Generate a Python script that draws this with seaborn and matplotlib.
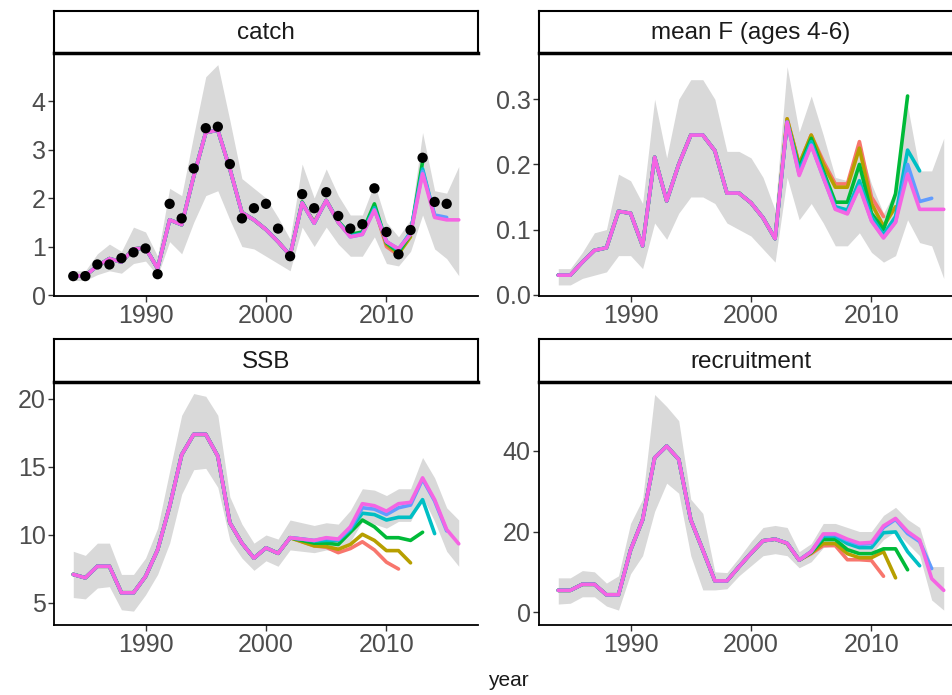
import matplotlib
matplotlib.use('Agg')
import matplotlib.pyplot as plt
import seaborn as sns
import numpy as np
import pandas as pd

sns.set_theme(style="white")
plt.rcParams['font.family'] = ['Liberation Sans', 'DejaVu Sans']

# ggplot default hue palette for the six retrospective peels
PEELS = [2011, 2012, 2013, 2014, 2015, 2016]
PEEL_COLORS = ['#F8766D', '#B79F00', '#00BA38', '#00BFC4', '#619CFF', '#F564E3']
BAND_COLOR = '#D9D9D9'
TICK_COLOR = '#4D4D4D'

years = list(range(1984, 2017))
TAIL_START = 2003

# observed catch (points)
obs_years = list(range(1984, 2016))
obs_catch = [0.39, 0.39, 0.63, 0.63, 0.76, 0.88, 0.96, 0.43, 1.88, 1.58, 2.61, 3.44,
             3.47, 2.70, 1.58, 1.79, 1.88, 1.37, 0.80, 2.08, 1.79, 2.12, 1.63, 1.37,
             1.46, 2.20, 1.30, 0.84, 1.34, 2.83, 1.92, 1.88]

# ---- catch ----
catch_est = [0.39, 0.40, 0.60, 0.75, 0.68, 0.95, 0.97, 0.55, 1.55, 1.45, 2.45, 3.35,
             3.40, 2.60, 1.70, 1.55, 1.35, 1.10, 0.82, 1.90, 1.48, 1.95, 1.50, 1.20,
             1.25, 1.75, 1.10, 0.95, 1.25, 2.50, 1.60, 1.55, 1.55]
catch_lo = [0.30, 0.30, 0.42, 0.50, 0.45, 0.65, 0.70, 0.40, 1.10, 0.85, 1.50, 2.05,
            2.15, 1.55, 1.00, 0.95, 0.80, 0.65, 0.50, 1.40, 1.00, 1.40, 1.05, 0.80,
            0.80, 1.20, 0.65, 0.60, 0.90, 1.65, 0.95, 0.75, 0.40]
catch_hi = [0.50, 0.50, 0.85, 1.05, 0.90, 1.40, 1.30, 0.80, 2.20, 2.05, 3.30, 4.50,
            4.75, 3.60, 2.40, 2.20, 2.00, 1.60, 1.15, 2.70, 2.00, 2.60, 2.05, 1.65,
            1.65, 2.30, 1.50, 1.20, 1.55, 3.35, 2.15, 2.10, 2.65]
catch_tails = {
    2011: [1.90, 1.50, 1.95, 1.50, 1.22, 1.28, 1.80, 1.00, 0.82],
    2012: [1.90, 1.50, 1.95, 1.50, 1.22, 1.28, 1.80, 1.05, 0.85, 1.20],
    2013: [1.92, 1.48, 1.95, 1.52, 1.25, 1.30, 1.88, 1.08, 0.88, 1.25, 2.75],
    2014: [1.90, 1.48, 1.95, 1.50, 1.22, 1.27, 1.80, 1.10, 0.92, 1.30, 2.60, 1.62],
    2015: [1.90, 1.48, 1.95, 1.50, 1.20, 1.25, 1.76, 1.10, 0.95, 1.27, 2.55, 1.65, 1.60],
}

# ---- mean F ----
f_est = [0.030, 0.030, 0.050, 0.068, 0.072, 0.128, 0.125, 0.075, 0.211, 0.144, 0.200,
         0.245, 0.245, 0.221, 0.156, 0.156, 0.141, 0.118, 0.086, 0.265, 0.183, 0.229,
         0.180, 0.131, 0.124, 0.165, 0.113, 0.087, 0.111, 0.185, 0.131, 0.131, 0.131]
f_lo = [0.015, 0.015, 0.025, 0.030, 0.035, 0.060, 0.060, 0.040, 0.110, 0.085, 0.125,
        0.150, 0.150, 0.140, 0.110, 0.100, 0.090, 0.070, 0.050, 0.180, 0.115, 0.140,
        0.110, 0.075, 0.075, 0.095, 0.065, 0.050, 0.060, 0.115, 0.080, 0.075, 0.025]
f_hi = [0.040, 0.040, 0.065, 0.095, 0.100, 0.185, 0.175, 0.140, 0.300, 0.210, 0.300,
        0.330, 0.330, 0.300, 0.220, 0.220, 0.210, 0.180, 0.130, 0.350, 0.250, 0.305,
        0.245, 0.180, 0.175, 0.230, 0.170, 0.125, 0.160, 0.290, 0.190, 0.190, 0.240]
f_tails = {
    2011: [0.270, 0.200, 0.245, 0.205, 0.170, 0.170, 0.235, 0.150, 0.120],
    2012: [0.270, 0.200, 0.245, 0.200, 0.165, 0.165, 0.225, 0.140, 0.105, 0.135],
    2013: [0.265, 0.195, 0.240, 0.190, 0.142, 0.142, 0.200, 0.125, 0.100, 0.155, 0.305],
    2014: [0.265, 0.190, 0.235, 0.185, 0.135, 0.130, 0.175, 0.120, 0.092, 0.120, 0.222, 0.190],
    2015: [0.265, 0.185, 0.230, 0.180, 0.132, 0.125, 0.167, 0.114, 0.088, 0.112, 0.200, 0.143, 0.148],
}

# ---- SSB ----
ssb_est = [7.10, 6.85, 7.70, 7.70, 5.75, 5.75, 6.95, 8.90, 12.10, 15.90, 17.40, 17.40,
           15.80, 10.90, 9.40, 8.30, 9.05, 8.65, 9.80, 9.70, 9.60, 9.80, 9.70, 10.60,
           12.30, 12.15, 11.75, 12.30, 12.40, 14.20, 12.60, 10.40, 9.35]
ssb_lo = [5.4, 5.3, 6.1, 6.2, 4.5, 4.4, 5.6, 7.1, 9.4, 13.0, 14.8, 14.9, 13.5, 9.6,
          8.3, 7.4, 8.1, 7.7, 8.9, 8.8, 8.7, 8.9, 8.8, 9.5, 11.0, 10.8, 10.5, 11.0,
          11.0, 12.8, 11.0, 8.8, 7.7]
ssb_hi = [8.8, 8.5, 9.4, 9.4, 7.1, 7.1, 8.3, 10.5, 14.7, 18.8, 20.4, 20.2, 18.8, 12.8,
          10.8, 9.4, 10.0, 9.7, 11.1, 10.9, 10.7, 10.9, 10.8, 11.8, 13.4, 13.3, 12.9,
          13.4, 13.4, 15.7, 14.2, 12.0, 11.1]
ssb_tails = {
    2011: [9.50, 9.20, 9.10, 8.70, 9.00, 9.50, 8.90, 8.00, 7.50],
    2012: [9.50, 9.20, 9.15, 8.95, 9.30, 10.05, 9.60, 8.85, 8.85, 7.95],
    2013: [9.60, 9.40, 9.40, 9.30, 10.20, 11.10, 10.60, 9.80, 9.80, 9.60, 10.20],
    2014: [9.70, 9.55, 9.60, 9.60, 10.40, 11.60, 11.50, 11.10, 11.30, 11.30, 12.60, 10.10],
    2015: [9.70, 9.60, 9.75, 9.65, 10.50, 12.00, 11.90, 11.50, 12.00, 12.20, 14.10, 12.50, 10.30],
}

# ---- recruitment ----
rec_est = [5.4, 5.4, 6.9, 6.9, 4.3, 4.3, 15.4, 22.9, 38.3, 41.2, 37.9, 22.9, 15.4,
           7.75, 7.75, 11.25, 14.6, 17.7, 18.1, 17.1, 12.9, 15.0, 19.4, 19.4, 18.1,
           17.1, 17.3, 21.4, 23.25, 20.0, 17.9, 8.3, 5.4]
rec_lo = [2.0, 2.2, 3.8, 3.8, 1.5, 0.5, 9.5, 14.0, 25.0, 32.0, 29.5, 14.0, 5.5, 5.5,
          5.8, 9.0, 11.5, 14.0, 14.5, 14.0, 11.0, 12.5, 16.0, 16.5, 15.0, 14.5, 14.5,
          18.0, 20.0, 17.0, 14.0, 3.0, 0.5]
rec_hi = [8.5, 8.5, 10.3, 10.0, 7.2, 9.0, 22.0, 28.0, 54.0, 51.0, 47.5, 28.0, 24.5,
          10.0, 9.8, 13.5, 17.5, 21.0, 21.5, 21.0, 15.0, 17.0, 22.0, 22.0, 21.0, 20.0,
          20.0, 24.0, 26.0, 23.0, 21.0, 11.3, 11.3]
rec_tails = {
    2011: [17.0, 12.9, 14.5, 16.5, 16.5, 13.0, 13.0, 12.8, 8.9],
    2012: [17.0, 12.9, 14.7, 17.0, 17.0, 14.5, 13.5, 13.5, 15.0, 8.5],
    2013: [17.1, 12.9, 14.8, 18.0, 18.0, 15.5, 14.5, 14.5, 15.7, 15.7, 10.5],
    2014: [17.1, 12.9, 15.0, 18.8, 18.8, 17.0, 16.0, 16.0, 19.7, 19.9, 15.0, 11.5],
    2015: [17.1, 12.9, 15.0, 19.2, 19.2, 17.8, 16.8, 17.0, 21.0, 23.0, 19.5, 17.5, 10.8],
}

panels = [
    ('catch', catch_est, catch_lo, catch_hi, catch_tails, (-0.02, 4.99), [0, 1, 2, 3, 4], '{:.0f}'),
    ('mean F (ages 4-6)', f_est, f_lo, f_hi, f_tails, (-0.002, 0.371), [0.0, 0.1, 0.2, 0.3], '{:.1f}'),
    ('SSB', ssb_est, ssb_lo, ssb_hi, ssb_tails, (3.38, 21.25), [5, 10, 15, 20], '{:.0f}'),
    ('recruitment', rec_est, rec_lo, rec_hi, rec_tails, (-3.2, 57.1), [0, 20, 40], '{:.0f}'),
]


def peel_frame(est, tails):
    """Long table of each retrospective peel: shared history + peel-specific tail."""
    rows = []
    head = [(y, v) for y, v in zip(years, est) if y < TAIL_START]
    for peel in PEELS:
        if peel == 2016:
            series = list(zip(years, est))
        else:
            tail_years = range(TAIL_START, peel + 1)
            series = head + list(zip(tail_years, tails[peel]))
        rows += [{'year': y, 'value': v, 'peel': peel} for y, v in series]
    return pd.DataFrame(rows)


fig = plt.figure(figsize=(9.52, 6.95), dpi=100)
W, H = 952, 695
# panel boxes in pixels: (left, right, strip_top, panel_top, panel_bottom)
boxes = [(54, 478, 11, 53, 296), (539, 963, 11, 53, 296),
         (54, 478, 339, 382, 625), (539, 963, 339, 382, 625)]

palette = dict(zip(PEELS, PEEL_COLORS))

for (title, est, lo, hi, tails, ylim, yticks, fmt), (l, r, st, pt, pb) in zip(panels, boxes):
    ax = fig.add_axes([l / W, 1 - pb / H, (r - l) / W, (pb - pt) / H])
    sax = fig.add_axes([l / W, 1 - pt / H, (r - l) / W, (pt - st) / H])

    ax.fill_between(years, lo, hi, color=BAND_COLOR, linewidth=0, zorder=1)
    df = peel_frame(est, tails)
    sns.lineplot(data=df, x='year', y='value', hue='peel', palette=palette,
                 hue_order=PEELS, linewidth=2.6, legend=False, ax=ax, zorder=2)
    if title == 'catch':
        sns.scatterplot(x=obs_years, y=obs_catch, color='black', s=55,
                        edgecolor='none', ax=ax, zorder=3)

    ax.set_xlim(1982.4, 2017.6)
    ax.set_ylim(*ylim)
    ax.set_xticks([1990, 2000, 2010])
    ax.set_yticks(yticks)
    ax.set_yticklabels([fmt.format(t) for t in yticks])
    ax.set_xlabel('')
    ax.set_ylabel('')
    for side in ['top', 'right']:
        ax.spines[side].set_visible(False)
    for side in ['left', 'bottom']:
        ax.spines[side].set_color('black')
        ax.spines[side].set_linewidth(1.3)
    ax.tick_params(axis='both', which='both', length=4, width=1, color='#333333',
                   labelsize=18, labelcolor=TICK_COLOR, pad=2, bottom=True, left=True)
    ax.set_facecolor('white')

    sax.set_xticks([])
    sax.set_yticks([])
    for side in sax.spines.values():
        side.set_color('black')
        side.set_linewidth(1.5)
    sax.spines['bottom'].set_linewidth(2.5)
    sax.text(0.5, 0.47, title, ha='center', va='center', fontsize=17.5,
             color='#1A1A1A', transform=sax.transAxes)

fig.text(508 / W, 1 - 680 / H, 'year', ha='center', va='center', fontsize=15,
         color='#1A1A1A')

fig.savefig('out.png', dpi=100, facecolor='white')
